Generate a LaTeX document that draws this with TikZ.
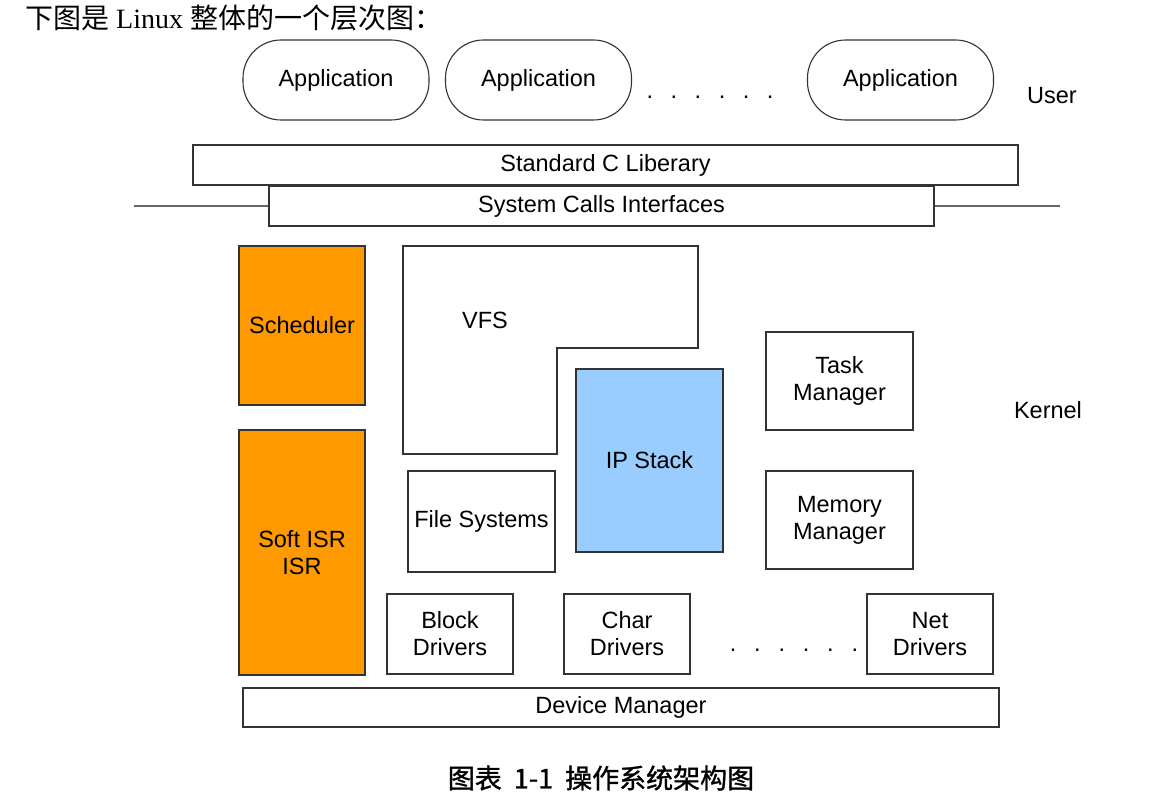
\documentclass[tikz,border=0pt]{standalone}
\usepackage{fontspec}
\setmainfont{Liberation Serif}
\newfontfamily\cjk{Noto Sans CJK SC}
\newfontfamily\cjkb[FakeBold=1.2]{Noto Sans CJK SC}
\newfontfamily\arial{Liberation Sans}
\begin{document}
\begin{tikzpicture}[x=1pt,y=-1pt,
  every node/.style={font=\arial\fontsize{23.5}{27}\selectfont},
  box/.style={draw=black!80, line width=1.1pt, fill=white, align=center, inner sep=0pt},
  app/.style={box, rounded corners=38pt, minimum width=186pt, minimum height=80pt},
  orange/.style={box, fill=orange0},
  blue/.style={box, fill=blue0},
  plain/.style={align=center, inner sep=0pt},
  line/.style={draw=black!60, line width=1.1pt}]
\definecolor{orange0}{HTML}{FF9900}
\definecolor{blue0}{HTML}{99CCFF}
\useasboundingbox (0,0) rectangle (1150,805);
% header
\node[plain, anchor=west, font=\fontsize{28}{30}\selectfont] (title) at (25,18) {\cjk 下图是\rmfamily{} Linux \cjk 整体的一个层次图：};
% user space
\node[app] (app1) at (336,80) {Application};
\node[app] (app2) at (538.5,80) {Application};
\node[app] (app3) at (900.5,80) {Application};
\node[plain] (dots1) at (710,97) {.\hskip 17.5pt.\hskip 17.5pt.\hskip 17.5pt.\hskip 17.5pt.\hskip 17.5pt.};
\node[plain] (user) at (1052,96) {User};
\node[box, minimum width=825pt, minimum height=40pt] (libc) at (605.5,165) {Standard C Liberary};
\node[box, minimum width=665pt, minimum height=40pt] (sci) at (601.5,206) {System Calls Interfaces};
\coordinate (l1) at (134,206);
\coordinate (r1) at (1060,206);
\draw[line] (l1) -- (sci.west);
\draw[line] (sci.east) -- (r1);
% kernel
\node[orange, minimum width=126pt, minimum height=159pt] (sched) at (302,325.5) {Scheduler};
\node[orange, minimum width=126pt, minimum height=245pt] (isr) at (302,552.5) {Soft ISR\\ISR};
\draw[draw=black!80, line width=1.1pt, fill=white] (403,246) -- (698,246) -- (698,348) -- (557,348) -- (557,454) -- (403,454) -- cycle;
\node[plain] (vfs) at (485,320) {VFS};
\node[blue, minimum width=147pt, minimum height=183pt] (ip) at (649.5,460.5) {IP Stack};
\node[box, minimum width=147pt, minimum height=101pt] (fs) at (481.5,521.5) {File Systems};
\node[box, minimum width=147pt, minimum height=98pt] (task) at (839.5,381) {Task\\Manager};
\node[box, minimum width=147pt, minimum height=98pt] (mem) at (839.5,520) {Memory\\Manager};
\node[plain] (kernel) at (1048,410) {Kernel};
\node[box, minimum width=126pt, minimum height=80pt] (block) at (450,634) {Block\\Drivers};
\node[box, minimum width=126pt, minimum height=80pt] (char) at (627,634) {Char\\Drivers};
\node[plain] (dots2) at (794,650) {.\hskip 17.8pt.\hskip 17.8pt.\hskip 17.8pt.\hskip 17.8pt.\hskip 17.8pt.};
\node[box, minimum width=126pt, minimum height=80pt] (net) at (930,634) {Net\\Drivers};
\node[box, minimum width=756pt, minimum height=39pt] (dev) at (621,707.5) {Device Manager};
% caption
\node[plain, font=\cjkb\fontsize{27}{30}\selectfont] (cap) at (601,778) {图表\hskip 12pt 1-1\hskip 12pt 操作系统架构图};
\end{tikzpicture}
\end{document}
